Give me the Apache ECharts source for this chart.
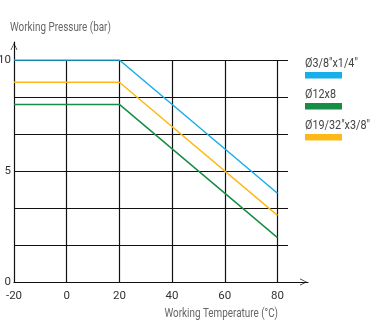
<!DOCTYPE html>
<html>
<head>
<meta charset="utf-8">
<script src="https://cdn.jsdelivr.net/npm/echarts@6/dist/echarts.min.js"></script>
<style>
  html, body { margin: 0; padding: 0; background: #fff; }
  #main { width: 371px; height: 321px; }
</style>
</head>
<body>
<div id="main"></div>
<script>
// 数据
const temps = [-20, 20, 80];
const seriesNames = ['Ø3/8"x1/4"', 'Ø12x8', 'Ø19/32"x3/8"'];
const seriesColors = ['#17aeea', '#178d45', '#fcb918'];
const pressureBlue = [10, 10, 4];
const pressureGreen = [8, 8, 2];
const pressureOrange = [9, 9, 3];
const yTickLabels = [0, 5, 10];
const yAxisName = 'Working Pressure (bar)';
const xAxisName = 'Working Temperature (°C)';

const font = 'Roboto, sans-serif';
const allValues = [pressureBlue, pressureGreen, pressureOrange];

const chart = echarts.init(document.getElementById('main'));

// 空心箭头
const chevron = 'path://M0,10 L5,0 L10,10 L9,10 L5,1.8 L1,10 Z';

const series = allValues.map(function (vals, i) {
  return {
    name: seriesNames[i],
    type: 'line',
    xAxisIndex: 0,
    yAxisIndex: 0,
    symbol: 'none',
    lineStyle: { color: seriesColors[i], width: 1.5 },
    data: temps.map(function (t, j) { return [t, vals[j]]; }),
    z: 5
  };
});

// 轴名称 + 图例 (文字在色块上方, 字体横向压缩)
const graphics = [
  {
    type: 'text', x: 10, y: 21, scaleX: 0.76,
    style: { text: yAxisName, fill: '#666', font: '13px ' + font, textAlign: 'left', textVerticalAlign: 'top' }
  },
  {
    type: 'text', x: 278, y: 307, scaleX: 0.76,
    style: { text: xAxisName, fill: '#666', font: '13px ' + font, textAlign: 'right', textVerticalAlign: 'top' }
  }
];
seriesNames.forEach(function (name, i) {
  const top = 57 + i * 31;
  graphics.push({
    type: 'text', x: 305, y: top, scaleX: 0.83,
    style: { text: name, fill: '#444', font: '13px ' + font, textAlign: 'left', textVerticalAlign: 'top' }
  });
  graphics.push({
    type: 'rect', x: 305, y: top + 15,
    shape: { width: 37, height: 6.5 },
    style: { fill: seriesColors[i] }
  });
});

chart.setOption({
  animation: false,
  grid: [
    { left: 14, right: 83, top: 60, bottom: 39, outerBoundsMode: 'none', containLabel: false },
    { left: 14, right: 63, top: 42, bottom: 39, outerBoundsMode: 'none', containLabel: false }
  ],
  xAxis: [
    {
      type: 'value', gridIndex: 0,
      min: -20, max: 84, interval: 20,
      axisLine: { show: false },
      axisTick: { show: false },
      axisLabel: {
        showMaxLabel: false, margin: 8,
        fontFamily: font, fontSize: 11.5, color: '#333'
      },
      splitLine: { show: true, showMinLine: false, showMaxLine: false, lineStyle: { color: '#111', width: 1.2 } }
    },
    {
      type: 'value', gridIndex: 1, min: 0, max: 1,
      axisLine: { show: true, symbol: ['none', chevron], symbolSize: [7, 9], symbolOffset: [0, -4.5], lineStyle: { color: '#111', width: 1.2 } },
      axisTick: { show: false }, axisLabel: { show: false }, splitLine: { show: false }
    }
  ],
  yAxis: [
    {
      type: 'value', gridIndex: 0,
      min: 0, max: 10, interval: 10 / 6,
      axisLine: { show: false },
      axisTick: { show: false },
      axisLabel: {
        margin: 3, fontFamily: font, fontSize: 11.5, color: '#333',
        formatter: function (v) {
          const r = Math.round(v * 100) / 100;
          return yTickLabels.indexOf(r) >= 0 ? String(r) : '';
        }
      },
      splitLine: { show: true, showMinLine: false, lineStyle: { color: '#111', width: 1.2 } }
    },
    {
      type: 'value', gridIndex: 1, min: 0, max: 1,
      axisLine: { show: true, symbol: ['none', chevron], symbolSize: [7, 9], symbolOffset: [0, -4.5], lineStyle: { color: '#111', width: 1.2 } },
      axisTick: { show: false }, axisLabel: { show: false }, splitLine: { show: false }
    }
  ],
  graphic: graphics,
  series: series
});
</script>
</body>
</html>
